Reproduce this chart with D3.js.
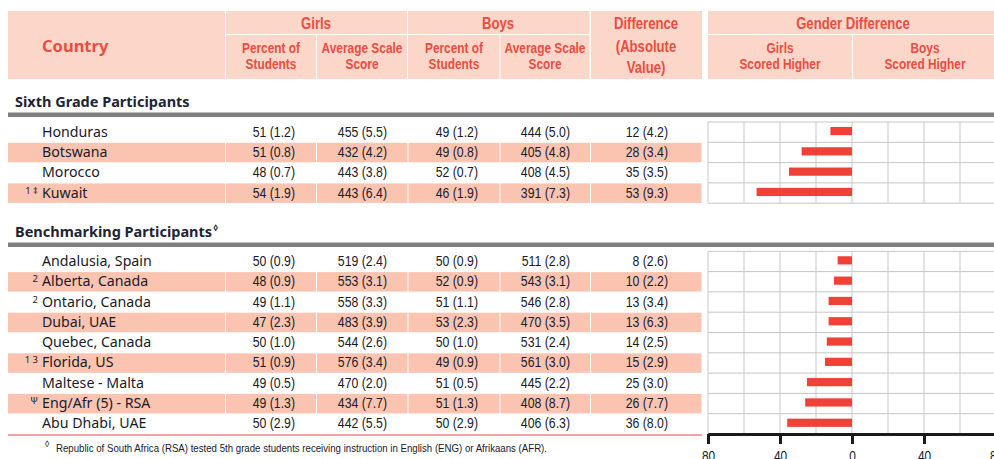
<!DOCTYPE html>
<html><head><meta charset="utf-8">
<script src="https://cdn.jsdelivr.net/npm/d3@7/dist/d3.min.js"></script>
<style>body{margin:0;background:#fff}</style>
</head><body><svg id="c" width="994" height="459"></svg>
<script>
// ---------- DATA ----------
const sixthCountries = ["Honduras","Botswana","Morocco","Kuwait"];
const sixthNotes = ["","","","1 ‡"];
const sixthGirlsPct = [51,51,48,54];
const sixthGirlsPctSE = [1.2,0.8,0.7,1.9];
const sixthGirlsScore = [455,432,443,443];
const sixthGirlsScoreSE = [5.5,4.2,3.8,6.4];
const sixthBoysPct = [49,49,52,46];
const sixthBoysPctSE = [1.2,0.8,0.7,1.9];
const sixthBoysScore = [444,405,408,391];
const sixthBoysScoreSE = [5.0,4.8,4.5,7.3];
const sixthDiff = [12,28,35,53];
const sixthDiffSE = [4.2,3.4,3.5,9.3];

const benchCountries = ["Andalusia, Spain","Alberta, Canada","Ontario, Canada","Dubai, UAE","Quebec, Canada","Florida, US","Maltese - Malta","Eng/Afr (5) - RSA","Abu Dhabi, UAE"];
const benchNotes = ["","2","2","","","1 3","","Ψ",""];
const benchGirlsPct = [50,48,49,47,50,51,49,49,50];
const benchGirlsPctSE = [0.9,0.9,1.1,2.3,1.0,0.9,0.5,1.3,2.9];
const benchGirlsScore = [519,553,558,483,544,576,470,434,442];
const benchGirlsScoreSE = [2.4,3.1,3.3,3.9,2.6,3.4,2.0,7.7,5.5];
const benchBoysPct = [50,52,51,53,50,49,51,51,50];
const benchBoysPctSE = [0.9,0.9,1.1,2.3,1.0,0.9,0.5,1.3,2.9];
const benchBoysScore = [511,543,546,470,531,561,445,408,406];
const benchBoysScoreSE = [2.8,3.1,2.8,3.5,2.4,3.0,2.2,8.7,6.3];
const benchDiff = [8,10,13,13,14,15,25,26,36];
const benchDiffSE = [2.6,2.2,3.4,6.3,2.5,2.9,3.0,7.7,8.0];

const axisTicks = [-80,-40,0,40,80];
const gridValues = [-80,-60,-40,-20,0,20,40,60,80];
const footnoteText = "Republic of South Africa (RSA) tested 5th grade students receiving instruction in English (ENG) or Afrikaans (AFR).";

// ---------- STYLE ----------
const COND = "'Liberation Sans',Arial,sans-serif";   // drawn horizontally compressed
const SQ = 0.82;
const SANS = "'Noto Sans','Open Sans',sans-serif";
const RED = "#ea4d42";
const HEAD_BG = "#fcd6c8";
const BAND = "#fbc4b1";
const INK = "#1a1a28";
const BAR = "#ef4136";

const svg = d3.select("#c");
const x = d3.scaleLinear().domain([-80,80]).range([708,996]);
const colEdges = [8,225.5,316.5,408,500,590.5,702];
const valRight = [295,387,478,570,668];
const rowH = 20.3;

// condensed text helper
function ctext(parent, px, py, txt, opts){
  const g = parent.append("g").attr("transform",`translate(${px},${py}) scale(${opts.sx||SQ},1)`);
  return g.append("text").attr("x",0).attr("y",0).attr("text-anchor",opts.anchor||"start")
    .attr("font-family",COND).attr("font-weight",opts.weight||"normal")
    .attr("font-size",opts.size).attr("fill",opts.fill||INK).text(txt);
}

// ---------- HEADER ----------
function cell(x0,x1,y0,y1){
  svg.append("rect").attr("x",x0).attr("y",y0).attr("width",x1-x0).attr("height",y1-y0).attr("fill",HEAD_BG);
}
cell(8,225,11,79);
cell(226,407,11,34); cell(226,316,35,79); cell(317,407,35,79);
cell(408,589.5,11,34); cell(408,499.5,35,79); cell(500.5,589.5,35,79);
cell(591,702,11,79);
cell(708,994,11,34); cell(708,852,35,79); cell(853,994,35,79);

function htext(cx,lines,baselines,size){
  lines.forEach((t,i)=>ctext(svg,cx,baselines[i],t,{anchor:"middle",weight:"bold",size:size,fill:RED}));
}
svg.append("text").attr("x",42).attr("y",51.5).attr("font-family",SANS).attr("font-weight","bold")
  .attr("font-size",16.5).attr("fill",RED).text("Country");
htext(316,["Girls"],[28.5],16);
htext(498,["Boys"],[28.5],16);
htext(271,["Percent of","Students"],[53,69],14.5);
htext(362,["Average Scale","Score"],[53,69],14.5);
htext(454,["Percent of","Students"],[53,69],14.5);
htext(545,["Average Scale","Score"],[53,69],14.5);
htext(646,["Difference","(Absolute","Value)"],[29,51.5,73],16);
htext(853,["Gender Difference"],[29],16);
htext(780,["Girls","Scored Higher"],[53,69],14.5);
htext(925,["Boys","Scored Higher"],[53,69],14.5);

// ---------- SECTIONS ----------
function section(title, sup, titleBase, barY, top, names, notes, cols, diff, withAxis){
  const t = svg.append("text").attr("x",15).attr("y",titleBase).attr("font-family",SANS)
    .attr("font-weight","bold").attr("font-size",14.5).attr("fill","#1e2433").text(title);
  if(sup) t.append("tspan").attr("font-size",9).attr("dy",-6).attr("dx",1).text(sup);
  svg.append("rect").attr("x",8).attr("y",barY).attr("width",986).attr("height",4.5).attr("fill","#7f7f80");

  const n = names.length;
  const rows = d3.range(n);
  // bands
  rows.filter(i=>i%2===1).forEach(i=>{
    for(let c=0;c<colEdges.length-1;c++){
      svg.append("rect").attr("x",colEdges[c]+(c===0?0:0.5)).attr("y",top+i*rowH+0.5)
        .attr("width",colEdges[c+1]-colEdges[c]-(c===0?0.5:1)).attr("height",rowH-0.8).attr("fill",BAND);
    }
  });
  // chart grid
  const bottom = top + n*rowH;
  svg.selectAll(null).data(gridValues).enter().append("line")
    .attr("x1",d=>x(d)).attr("x2",d=>x(d)).attr("y1",top).attr("y2",bottom)
    .attr("stroke","#e4e4e4").attr("stroke-width",2.2);
  svg.selectAll(null).data(d3.range(n+1)).enter().append("line")
    .attr("x1",708).attr("x2",994).attr("y1",i=>top+i*rowH).attr("y2",i=>top+i*rowH)
    .attr("stroke","#c6c6c6").attr("stroke-width",1);
  // bars (girls scored higher -> left of zero)
  svg.selectAll(null).data(diff).enter().append("rect")
    .attr("x",d=>x(-d)).attr("width",d=>x(0)-x(-d))
    .attr("y",(d,i)=>top+i*rowH+rowH/2-5.2).attr("height",8.2).attr("fill",BAR);
  // names and values
  rows.forEach(i=>{
    const yb = top+i*rowH+14.6;
    svg.append("text").attr("x",42).attr("y",yb).attr("font-family",SANS).attr("font-size",14.2)
      .attr("fill",INK).text(names[i]);
    if(notes[i]) svg.append("text").attr("x",38).attr("y",yb-4).attr("text-anchor","end")
      .attr("font-family",SANS).attr("font-size",9.5).attr("fill",INK).text(notes[i]);
    cols.forEach((c,k)=>{
      ctext(svg, valRight[k], yb, c[0][i] + " (" + c[1][i].toFixed(1) + ")", {anchor:"end",size:15});
    });
  });
  if(withAxis){
    const g = svg.append("g").attr("transform",`translate(0,${bottom})`)
      .call(d3.axisBottom(x).tickValues(axisTicks).tickFormat(d=>Math.abs(d)).tickSize(10).tickSizeOuter(0));
    g.select(".domain").attr("stroke","#1a1a1a").attr("stroke-width",3);
    g.selectAll(".tick line").attr("stroke","#1a1a1a").attr("stroke-width",3);
    g.selectAll(".tick text").attr("font-family",COND).attr("font-size",14).attr("fill",INK)
      .attr("y",17).attr("dy","0.71em").attr("transform","scale(0.85,1)")
      .attr("x",0);
  }
  return bottom;
}

section("Sixth Grade Participants", null, 107, 112.5, 122, sixthCountries, sixthNotes,
  [[sixthGirlsPct,sixthGirlsPctSE],[sixthGirlsScore,sixthGirlsScoreSE],[sixthBoysPct,sixthBoysPctSE],[sixthBoysScore,sixthBoysScoreSE],[sixthDiff,sixthDiffSE]],
  sixthDiff, false);
const bb = section("Benchmarking Participants", "◊", 236.5, 242.5, 251.3, benchCountries, benchNotes,
  [[benchGirlsPct,benchGirlsPctSE],[benchGirlsScore,benchGirlsScoreSE],[benchBoysPct,benchBoysPctSE],[benchBoysScore,benchBoysScoreSE],[benchDiff,benchDiffSE]],
  benchDiff, true);

// table bottom rule
svg.append("line").attr("x1",8).attr("x2",702).attr("y1",bb+1).attr("y2",bb+1).attr("stroke",RED).attr("stroke-width",1);

// footnote
svg.append("text").attr("x",47).attr("y",447).attr("text-anchor","middle").attr("font-family",SANS)
  .attr("font-size",9).attr("fill",INK).text("◊");
svg.append("text").attr("x",56).attr("y",452.3).attr("font-family",COND).attr("font-size",11.5)
  .attr("fill",INK).attr("textLength",491).attr("lengthAdjust","spacingAndGlyphs").text(footnoteText);
</script>
</body></html>
